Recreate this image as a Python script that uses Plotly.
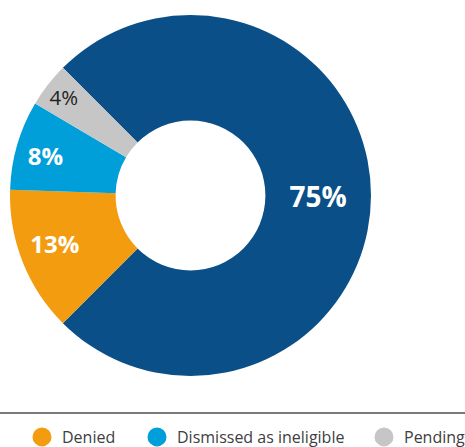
import plotly.graph_objects as go

labels = ["Granted", "Denied", "Dismissed as ineligible", "Pending"]
values = [75, 13, 8, 4]
colors = ["#0A4F87", "#F39C0F", "#009FDA", "#C6C6C6"]
text_colors = ["white", "white", "white", "#222222"]
text_sizes = [28, 24, 24, 23]
bold = [True, True, True, False]
pad_right = [0, 5, 2, 0]
legend_labels = ["Denied", "Dismissed as ineligible", "Pending"]
legend_colors = ["#F39C0F", "#009FDA", "#C6C6C6"]

texts = [(f"<b>{v}%</b>" if b else f"{v}%") + "&nbsp;" * p
         for v, b, p in zip(values, bold, pad_right)]

W, H = 465, 447
cx, cy, R = 190.5, 195.5, 180.5

fig = go.Figure()
fig.add_trace(go.Pie(
    labels=labels, values=values, sort=False, direction="clockwise",
    rotation=-45, hole=0.415,
    marker=dict(colors=colors, line=dict(width=0)),
    text=texts, textinfo="text", textposition="inside",
    insidetextorientation="horizontal",
    insidetextfont=dict(color=text_colors, size=text_sizes, family="Open Sans"),
    showlegend=False, hoverinfo="label+percent",
    domain=dict(x=[(cx - R) / W, (cx + R) / W], y=[1 - (cy + R) / H, 1 - (cy - R) / H]),
))

legend_text_x = [61, 176, 403]
for i, (lab, col) in enumerate(zip(legend_labels, legend_colors)):
    lname = "legend" if i == 0 else f"legend{i+1}"
    fig.add_trace(go.Scatter(
        x=[None], y=[None], mode="markers", name=lab,
        marker=dict(symbol="circle", size=17, color=col, line=dict(color=col, width=3)),
        showlegend=True, legend=lname,
    ))
    fig.update_layout(**{lname: dict(
        x=(legend_text_x[i] - 39) / W, xanchor="left", y=1 - 437 / H, yanchor="middle",
        bgcolor="rgba(0,0,0,0)", font=dict(family="Open Sans", size=16, color="#404040"),
        borderwidth=0,
    )})

fig.add_shape(type="line", xref="paper", yref="paper", x0=0, x1=1,
              y0=1 - 413 / H, y1=1 - 413 / H, line=dict(color="#7A7A7A", width=2))

fig.update_layout(
    width=W, height=H, margin=dict(l=0, r=0, t=0, b=0, autoexpand=False),
    paper_bgcolor="white", plot_bgcolor="white",
    xaxis=dict(visible=False), yaxis=dict(visible=False),
)
fig.write_html("out.html")
